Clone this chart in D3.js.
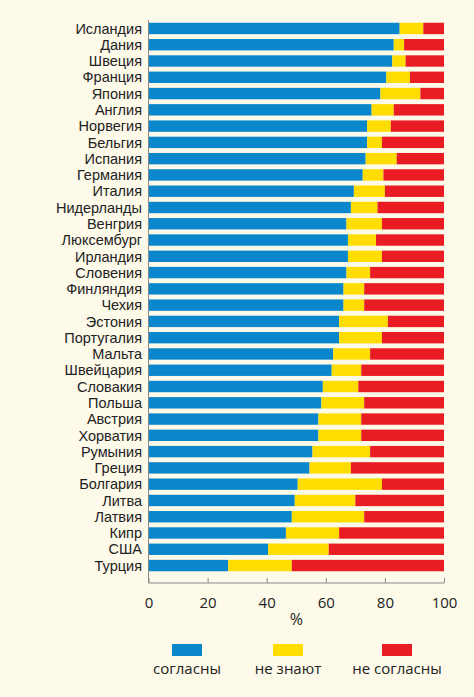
<!DOCTYPE html>
<html>
<head>
<meta charset="utf-8">
<script src="https://cdn.jsdelivr.net/npm/d3@7"></script>
<style>
  html, body { margin: 0; padding: 0; background: #fdfaea; }
  text { font-family: "Open Sans", sans-serif; fill: #222; }
  .label { font-family: "Liberation Sans", Arial, sans-serif; }
</style>
</head>
<body>
<div id="vis-container"></div>
<script>
const width = 474,
    height = 697;

// countries, top to bottom
var countries = ["Исландия", "Дания", "Швеция", "Франция", "Япония", "Англия", "Норвегия",
    "Бельгия", "Испания", "Германия", "Италия", "Нидерланды", "Венгрия", "Люксембург",
    "Ирландия", "Словения", "Финляндия", "Чехия", "Эстония", "Португалия", "Мальта",
    "Швейцария", "Словакия", "Польша", "Австрия", "Хорватия", "Румыния", "Греция",
    "Болгария", "Литва", "Латвия", "Кипр", "США", "Турция"];

// % share of each answer
var agree = [85, 83, 82.5, 80.5, 78.5, 75.5, 74, 74, 73.5, 72.5, 69.5, 68.5, 67, 67.5,
    67.5, 67, 66, 66, 64.5, 64.5, 62.5, 62, 59, 58.5, 57.5, 57.5, 55.5, 54.5,
    50.5, 49.5, 48.5, 46.5, 40.5, 27];
var dontKnow = [8, 3.5, 4.5, 8, 13.5, 7.5, 8, 5, 10.5, 7, 10.5, 9, 12, 9.5,
    11.5, 8, 7, 7, 16.5, 14.5, 12.5, 10, 12, 14.5, 14.5, 14.5, 19.5, 14,
    28.5, 20.5, 24.5, 18, 20.5, 21.5];
var disagree = [7, 13.5, 13, 11.5, 8, 17, 18, 21, 16, 20.5, 20, 22.5, 21, 23,
    21, 25, 27, 27, 19, 21, 25, 28, 29, 27, 28, 28, 25, 31.5,
    21, 30, 27, 35.5, 39, 51.5];

var series = ["согласны", "не знают", "не согласны"];
var colors = ["#0a87cc", "#ffdd00", "#e91c24"];
var xTicks = [0, 20, 40, 60, 80, 100];

var rows = countries.map(function(c, i) {
    return {country: c, "согласны": agree[i], "не знают": dontKnow[i], "не согласны": disagree[i]};
});

var stack = d3.stack().keys(series)(rows);

var svg = d3.select("#vis-container").append("svg")
    .attr("width", width)
    .attr("height", height);

var x = d3.scaleLinear()
    .domain([0, 100])
    .range([148.5, 444]);

var y = d3.scaleBand()
    .domain(countries)
    .range([19.5, 574.5])
    .paddingInner(0.3)
    .paddingOuter(0.2);

var color = d3.scaleOrdinal().domain(series).range(colors);

svg.append("g")
    .selectAll("g")
    .data(stack)
    .enter().append("g")
    .attr("fill", function(d) { return color(d.key); })
    .selectAll("rect")
    .data(function(d) { return d; })
    .enter().append("rect")
    .attr("x", function(d) { return x(d[0]); })
    .attr("width", function(d) { return x(d[1]) - x(d[0]); })
    .attr("y", function(d) { return y(d.data.country); })
    .attr("height", y.bandwidth());

// country labels (tight line box so rows don't collide)
svg.append("g")
    .selectAll("text")
    .data(countries)
    .enter().append("text")
    .attr("class", "label")
    .attr("x", 142)
    .attr("y", function(d) { return y(d) + y.bandwidth() / 2; })
    .attr("dy", "0.36em")
    .attr("text-anchor", "end")
    .attr("font-size", 14.5)
    .attr("textLength", null)
    .text(function(d) { return d; });

// axes
svg.append("line")
    .attr("x1", x(0)).attr("x2", x(0))
    .attr("y1", 20).attr("y2", 583)
    .attr("stroke", "#888")
    .attr("stroke-width", 1);

var xAxis = svg.append("g")
    .attr("transform", "translate(0,583)")
    .call(d3.axisBottom(x).tickValues(xTicks).tickSize(-5).tickPadding(14));

xAxis.select(".domain").attr("stroke", "#888").attr("d", "M" + x(0) + ",0H" + x(100));
xAxis.selectAll(".tick line").attr("stroke", "#888");
xAxis.selectAll(".tick text")
    .attr("font-size", 15)
    .attr("font-family", "Open Sans, sans-serif")
    .attr("fill", "#222");

svg.append("text")
    .attr("x", x(50))
    .attr("y", 625)
    .attr("text-anchor", "middle")
    .attr("font-size", 16)
    .text("%");

// legend
var legendX = [187, 288, 397];

var legend = svg.append("g")
    .selectAll("g")
    .data(series)
    .enter().append("g")
    .attr("transform", function(d, i) { return "translate(" + legendX[i] + ",0)"; });

legend.append("rect")
    .attr("x", -15)
    .attr("y", 644)
    .attr("width", 30)
    .attr("height", 12)
    .attr("fill", function(d) { return color(d); });

legend.append("text")
    .attr("y", 674)
    .attr("text-anchor", "middle")
    .attr("font-size", 15)
    .text(function(d) { return d; });
</script>
</body>
</html>
